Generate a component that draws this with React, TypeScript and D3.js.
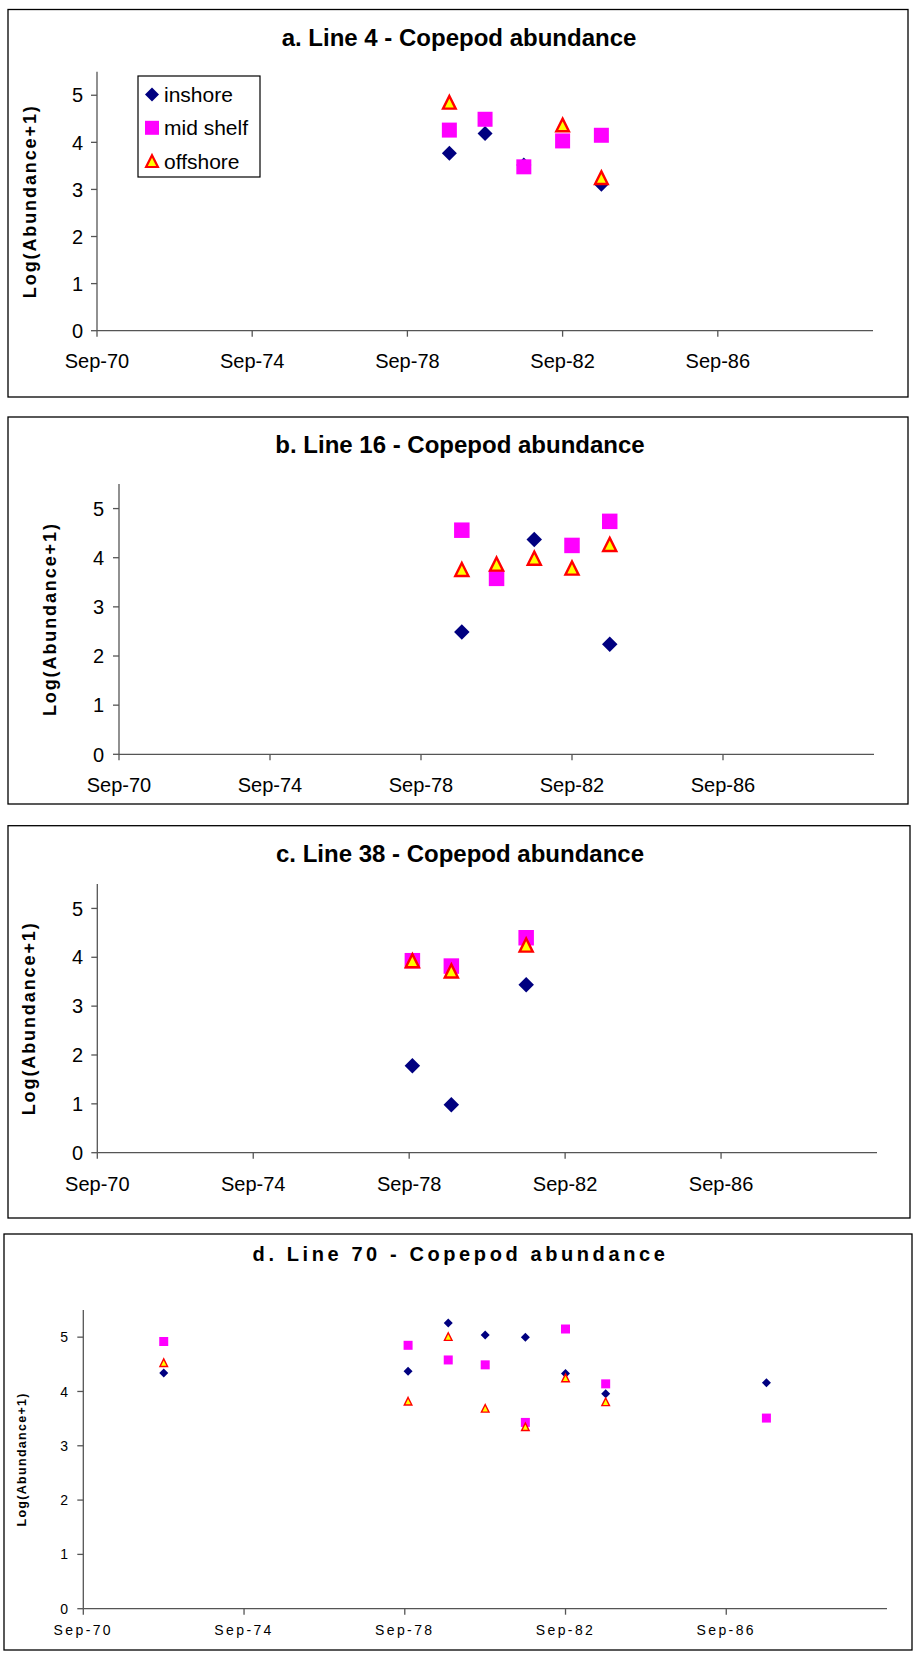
import React from 'react';
import * as d3 from 'd3';

// shared axis values
const tickDates = ['1970-09-01', '1974-09-01', '1978-09-01', '1982-09-01', '1986-09-01'];
const tickLabels = ['Sep-70', 'Sep-74', 'Sep-78', 'Sep-82', 'Sep-86'];
const yTicks = [0, 1, 2, 3, 4, 5];
const xDomain = ['1970-09-01', '1990-09-01'];
const seriesNames = ['inshore', 'mid shelf', 'offshore'];

// a. Line 4
const datesA = ['1979-10-01', '1980-09-01', '1981-09-01', '1982-09-01', '1983-09-01'];
const inshoreA = [3.77, 4.19, 3.52, null, 3.11];
const midA = [4.26, 4.49, 3.48, 4.03, 4.15];
const offA = [4.85, null, null, 4.37, 3.25];

// b. Line 16
const datesB = ['1979-10-01', '1980-09-01', '1981-09-01', '1982-09-01', '1983-09-01'];
const inshoreB = [2.49, null, 4.37, null, 2.24];
const midB = [4.56, 3.58, null, 4.25, 4.74];
const offB = [3.76, 3.87, 3.99, 3.79, 4.27];

// c. Line 38
const datesC = ['1978-10-01', '1979-10-01', '1981-09-01'];
const inshoreC = [1.78, 0.98, 3.44];
const midC = [3.93, 3.82, 4.4];
const offC = [3.93, 3.72, 4.25];

// d. Line 70
const datesD = ['1972-09-01', '1978-10-01', '1979-10-01', '1980-09-01', '1981-09-01', '1982-09-01', '1983-09-01', '1987-09-01'];
const inshoreD = [4.34, 4.37, 5.26, 5.04, 5.0, 4.33, 3.96, 4.16];
const midD = [4.92, 4.85, 4.58, 4.49, 3.43, 5.15, 4.14, 3.51];
const offD = [4.53, 3.82, 5.01, 3.69, 3.35, 4.25, 3.81, null];

const parse = d3.utcParse('%Y-%m-%d');
const FONT = 'Liberation Sans, Arial, sans-serif';

const markerPath = (kind, s) => {
  const h = s / 2;
  if (kind === 0) return `M0,${-h}L${h},0L0,${h}L${-h},0Z`;
  if (kind === 1) return `M${-h},${-h}h${s}v${s}h${-s}Z`;
  return `M0,${-h}L${h},${h}L${-h},${h}Z`;
};

function Marker({ kind, x, y, size, triStroke }) {
  const fill = kind === 0 ? '#000080' : kind === 1 ? '#ff00ff' : '#ffff00';
  return (
    <path
      d={markerPath(kind, kind === 2 ? size - triStroke : size)}
      transform={`translate(${x},${y})`}
      fill={fill}
      stroke={kind === 2 ? '#ff0000' : 'none'}
      strokeWidth={kind === 2 ? triStroke : 0}
      strokeLinejoin="miter"
    />
  );
}

function Panel({ cfg, title, dates, series, legend }) {
  const x = d3.scaleUtc().domain(xDomain.map(parse)).range([cfg.left, cfg.right]);
  const y = d3.scaleLinear().domain([0, 5.5]).range([cfg.bottom, cfg.top]);
  const ds = dates.map(parse);

  return (
    <g>
      <rect x={cfg.bx0} y={cfg.by0} width={cfg.bx1 - cfg.bx0} height={cfg.by1 - cfg.by0}
        fill="#fff" stroke="#000" strokeWidth={1.3} />
      <text x={cfg.titleX} y={cfg.titleY} textAnchor="middle" fontFamily={FONT} fontWeight="bold"
        fontSize={cfg.titleSize} letterSpacing={cfg.titleLs} fill="#000">{title}</text>
      <text transform={`translate(${cfg.ylabX},${y(2.75)}) rotate(-90)`} textAnchor="middle"
        dominantBaseline="central" fontFamily={FONT} fontWeight="bold" fontSize={cfg.ylabSize}
        letterSpacing={cfg.ylabLs} fill="#000">Log(Abundance+1)</text>

      {/* y axis */}
      <line x1={cfg.left} x2={cfg.left} y1={y(0)} y2={y(5.5)} stroke="#555" strokeWidth={1.3} />
      {yTicks.map(t => (
        <g key={t}>
          <line x1={cfg.left - 6} x2={cfg.left} y1={y(t)} y2={y(t)} stroke="#555" strokeWidth={1.3} />
          <text x={cfg.yTickEnd} y={y(t)} dy="0.36em" textAnchor="end" fontFamily={FONT}
            fontSize={cfg.tickSize} fill="#000">{t}</text>
        </g>
      ))}

      {/* x axis */}
      <line x1={cfg.left} x2={cfg.right} y1={y(0)} y2={y(0)} stroke="#555" strokeWidth={1.3} />
      {tickDates.map((t, i) => (
        <g key={t}>
          <line x1={x(parse(t))} x2={x(parse(t))} y1={y(0)} y2={y(0) + 6} stroke="#555" strokeWidth={1.3} />
          <text x={x(parse(t))} y={cfg.xLabY} textAnchor="middle" fontFamily={FONT}
            fontSize={cfg.tickSize} letterSpacing={cfg.tickLs} fill="#000">{tickLabels[i]}</text>
        </g>
      ))}

      {series.map((vals, k) =>
        vals.map((v, i) => v == null ? null : (
          <Marker key={`${k}-${i}`} kind={k} x={x(ds[i])} y={y(v)} size={cfg.mSize} triStroke={cfg.triStroke} />
        ))
      )}

      {legend && (
        <g>
          <rect x={138} y={76} width={122} height={101} fill="#fff" stroke="#000" strokeWidth={1.2} />
          {seriesNames.map((n, k) => (
            <g key={n}>
              <Marker kind={k} x={152} y={94.5 + k * 33.3} size={14} triStroke={2.2} />
              <text x={164} y={94.5 + k * 33.3} dy="0.36em" fontFamily={FONT} fontSize={21} fill="#000">{n}</text>
            </g>
          ))}
        </g>
      )}
    </g>
  );
}

const cfgA = { bx0: 8, bx1: 908, by0: 9.5, by1: 397, left: 97, right: 873, bottom: 330.7, top: 71.7,
  titleX: 459, titleY: 45.7, titleSize: 24, titleLs: 0, ylabX: 30, ylabSize: 18, ylabLs: 1.9,
  yTickEnd: 83, xLabY: 368, tickSize: 20, tickLs: 0, mSize: 15, triStroke: 2.4 };
const cfgB = { bx0: 8, bx1: 908, by0: 417, by1: 804, left: 119, right: 874, bottom: 754.3, top: 484,
  titleX: 460, titleY: 453.3, titleSize: 24, titleLs: 0, ylabX: 50, ylabSize: 18, ylabLs: 1.9,
  yTickEnd: 104, xLabY: 791.7, tickSize: 20, tickLs: 0, mSize: 15.5, triStroke: 2.4 };
const cfgC = { bx0: 8, bx1: 910, by0: 825.7, by1: 1218, left: 97.3, right: 877, bottom: 1152.7, top: 884,
  titleX: 460, titleY: 861.7, titleSize: 24, titleLs: 0, ylabX: 29, ylabSize: 18, ylabLs: 1.9,
  yTickEnd: 83, xLabY: 1190.7, tickSize: 20, tickLs: 0, mSize: 15.5, triStroke: 2.4 };
const cfgD = { bx0: 4, bx1: 912, by0: 1234, by1: 1650, left: 83.3, right: 887, bottom: 1608.7, top: 1310,
  titleX: 460.5, titleY: 1260.7, titleSize: 20, titleLs: 3.6, ylabX: 22, ylabSize: 12.5, ylabLs: 1.3,
  yTickEnd: 68, xLabY: 1635, tickSize: 14, tickLs: 2.4, mSize: 9, triStroke: 1.4 };

export default function App() {
  return (
    <svg width={913} height={1653} style={{ position: 'absolute', left: 0, top: 0, background: '#fff' }}>
      <Panel cfg={cfgA} title="a. Line 4 - Copepod abundance" dates={datesA}
        series={[inshoreA, midA, offA]} legend />
      <Panel cfg={cfgB} title="b. Line 16 - Copepod abundance" dates={datesB}
        series={[inshoreB, midB, offB]} />
      <Panel cfg={cfgC} title="c. Line 38 - Copepod abundance" dates={datesC}
        series={[inshoreC, midC, offC]} />
      <Panel cfg={cfgD} title="d. Line 70 - Copepod abundance" dates={datesD}
        series={[inshoreD, midD, offD]} />
    </svg>
  );
}
